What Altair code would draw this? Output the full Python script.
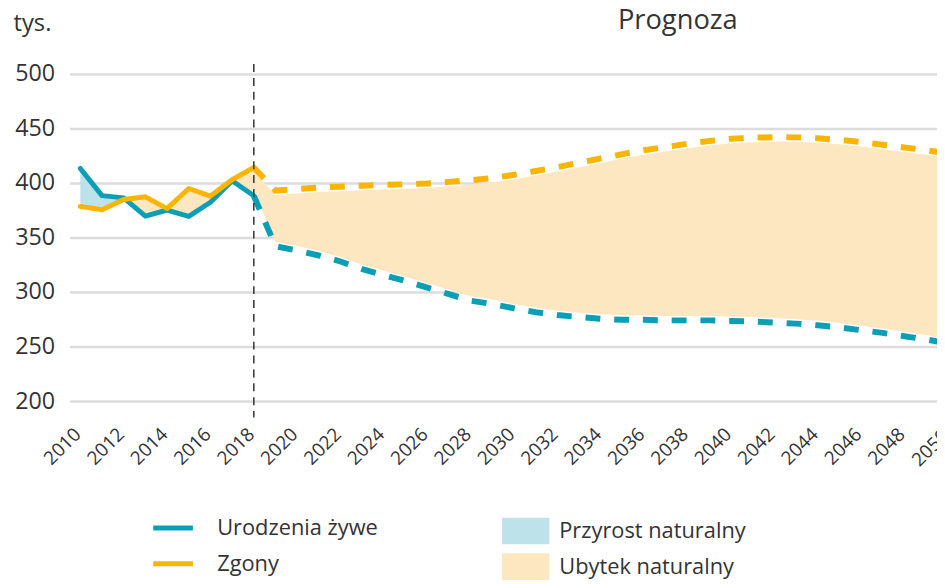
import altair as alt
import pandas as pd

# ---------------- data ----------------
years_hist = list(range(2010, 2019))
births_hist = [413.3, 388.4, 386.3, 369.6, 375.2, 369.3, 382.3, 402.0, 388.2]
deaths_hist = [378.5, 375.5, 384.8, 387.3, 376.5, 394.9, 388.0, 403.0, 414.2]

years_fc = list(range(2018, 2051))
births_fc = [388.2, 342, 338, 333.5, 328, 321, 315.5, 310, 304, 298, 292, 289, 285,
             281.5, 279, 277, 275.5, 274.5, 274.5, 274, 274, 274, 273.5, 273, 272,
             271, 269.5, 267.5, 265, 262.5, 259.5, 256.5, 253]
deaths_fc = [414.2, 393, 394.5, 395.8, 396.6, 397.5, 398.2, 398.8, 399.5, 401, 402.5,
             404.5, 407.5, 411, 414.5, 418.5, 422.5, 426.5, 430, 433, 436, 438.5,
             440.5, 441.5, 442, 441.8, 441, 439.5, 437.5, 435, 432.5, 430, 427]

series_names = ["Urodzenia żywe", "Zgony"]
fill_names = ["Przyrost naturalny", "Ubytek naturalny"]
line_colors = ["#0a9fb5", "#fbb400"]
fill_colors = ["#bee2ea", "#fde7c1"]
y_ticks = [200, 250, 300, 350, 400, 450, 500]
x_ticks = list(range(2010, 2051, 2))
split_year = 2018
title_text = "Prognoza"
unit_text = "tys."

TEXT = "#333333"
FONT = "Open Sans"
X_DOMAIN = [2009.5, 2049.5]
X_LABEL_SIZE = 19


def long_rows(years, b, d):
    rows = []
    for y, bv, dv in zip(years, b, d):
        rows.append({"year": y, "value": bv, "series": series_names[0]})
        rows.append({"year": y, "value": dv, "series": series_names[1]})
    return pd.DataFrame(rows)


def band_rows(years, b, d):
    rows = []

    def add(x, bv, dv):
        lo = min(bv, dv)
        rows.append({"year": x, "value": bv, "bottom": lo, "kind": fill_names[0]})
        rows.append({"year": x, "value": dv, "bottom": lo, "kind": fill_names[1]})

    for i in range(len(years)):
        add(years[i], b[i], d[i])
        if i + 1 < len(years):
            d0 = b[i] - d[i]
            d1 = b[i + 1] - d[i + 1]
            if d0 * d1 < 0:
                t = d0 / (d0 - d1)
                x = years[i] + t * (years[i + 1] - years[i])
                v = b[i] + t * (b[i + 1] - b[i])
                add(x, v, v)
    return pd.DataFrame(rows)


hist_lines = long_rows(years_hist, births_hist, deaths_hist)
fc_lines = long_rows(years_fc, births_fc, deaths_fc)
hist_band = band_rows(years_hist, births_hist, deaths_hist)
fc_band = pd.DataFrame({"year": years_fc, "value": deaths_fc, "bottom": births_fc,
                        "kind": [fill_names[1]] * len(years_fc)})
rule_df = pd.DataFrame({"year": [split_year], "value": [509], "value2": [185]})
title_df = pd.DataFrame({"year": [2037.55], "value": [541], "label": [title_text]})
# tick labels lying past the visible domain edge (drawn like the axis labels)
edge_ticks = [t for t in x_ticks if t > X_DOMAIN[1]]
edge_df = pd.DataFrame({"year": edge_ticks, "value": [172.7] * len(edge_ticks),
                        "label": [str(t) for t in edge_ticks]})

# ---------------- encodings ----------------
x_axis = alt.Axis(values=x_ticks, format="d", labelAngle=-45, labelAlign="right",
                  labelBaseline="middle", grid=False, ticks=False, domain=False,
                  labelFontSize=X_LABEL_SIZE, labelPadding=30, labelOffset=-3,
                  labelOverlap=False, labelFlush=False, labelColor=TEXT, title=None)
x_scale = alt.Scale(domain=X_DOMAIN, nice=False, zero=False)


def x_enc():
    return alt.X("year:Q", scale=x_scale, axis=x_axis)


y_axis = alt.Axis(values=y_ticks, grid=True, gridColor="#dcdcdc", gridWidth=2.5,
                  domain=False, ticks=False, labelFontSize=23.5, labelPadding=15,
                  labelColor=TEXT, title=unit_text, titleAngle=0, titleAlign="left",
                  titleBaseline="alphabetic", titleX=-57, titleY=-44, titleFontSize=24,
                  titleFontWeight="normal", titleColor=TEXT)
y_scale = alt.Scale(domain=[200, 500], nice=False, zero=False)


def y_enc(field="value"):
    return alt.Y(f"{field}:Q", scale=y_scale, axis=y_axis)


fill_enc = alt.Fill(
    "kind:N",
    scale=alt.Scale(domain=fill_names, range=fill_colors),
    legend=alt.Legend(title=None, orient="none", legendX=436, legendY=443, padding=0,
                      clipHeight=36, symbolType="M-1,-0.56H1V0.56H-1Z", symbolSize=2304,
                      symbolStrokeWidth=0, symbolOpacity=1, labelFontSize=22,
                      labelColor=TEXT, labelOffset=10, labelLimit=400, rowPadding=-1),
)
stroke_enc = alt.Stroke(
    "series:N",
    scale=alt.Scale(domain=series_names, range=line_colors),
    legend=alt.Legend(title=None, orient="none", legendX=82, legendY=440, padding=0,
                      clipHeight=36, symbolType="stroke", symbolSize=1600,
                      symbolStrokeWidth=5, symbolDash=[1, 0], labelFontSize=22,
                      labelColor=TEXT, labelOffset=22, labelLimit=400, rowPadding=0),
)

area_hist = alt.Chart(hist_band).mark_area(opacity=1, clip=True).encode(
    x=x_enc(), y=y_enc("value"), y2="bottom:Q", fill=fill_enc, detail="kind:N"
)
area_fc = alt.Chart(fc_band).mark_area(opacity=1, clip=True, yOffset=4.5,
                                       y2Offset=-4.5).encode(
    x=x_enc(), y=y_enc("value"), y2="bottom:Q", fill=fill_enc
)
line_hist = alt.Chart(hist_lines).mark_line(strokeWidth=5, strokeJoin="round",
                                            strokeCap="round", clip=True).encode(
    x=x_enc(), y=y_enc("value"), stroke=stroke_enc
)
line_fc = alt.Chart(fc_lines).mark_line(strokeWidth=6, strokeDash=[15, 14],
                                        clip=True).encode(
    x=x_enc(), y=y_enc("value"), stroke=stroke_enc
)
rule = alt.Chart(rule_df).mark_rule(color=TEXT, strokeWidth=1.5, strokeDash=[8, 6]).encode(
    x=x_enc(), y=y_enc("value"), y2="value2:Q"
)
title = alt.Chart(title_df).mark_text(align="center", baseline="alphabetic", fontSize=27.5,
                                      color=TEXT, font=FONT).encode(
    x=x_enc(), y=y_enc("value"), text="label:N"
)
edge_labels = alt.Chart(edge_df).mark_text(align="right", baseline="middle", angle=315,
                                           dx=-3, fontSize=X_LABEL_SIZE, color=TEXT,
                                           font=FONT).encode(
    x=x_enc(), y=y_enc("value"), text="label:N"
)

chart = alt.layer(area_hist, area_fc, line_hist, line_fc, rule, title, edge_labels).properties(
    width=875, height=330,
    autosize=alt.AutoSizeParams(type="none"),
    padding={"left": 62, "top": 64, "right": 0, "bottom": 178},
).configure(font=FONT).configure_view(stroke=None).resolve_scale(
    fill="shared", stroke="shared"
)

chart.save("out.html", embed_options={"renderer": "svg", "actions": False})
